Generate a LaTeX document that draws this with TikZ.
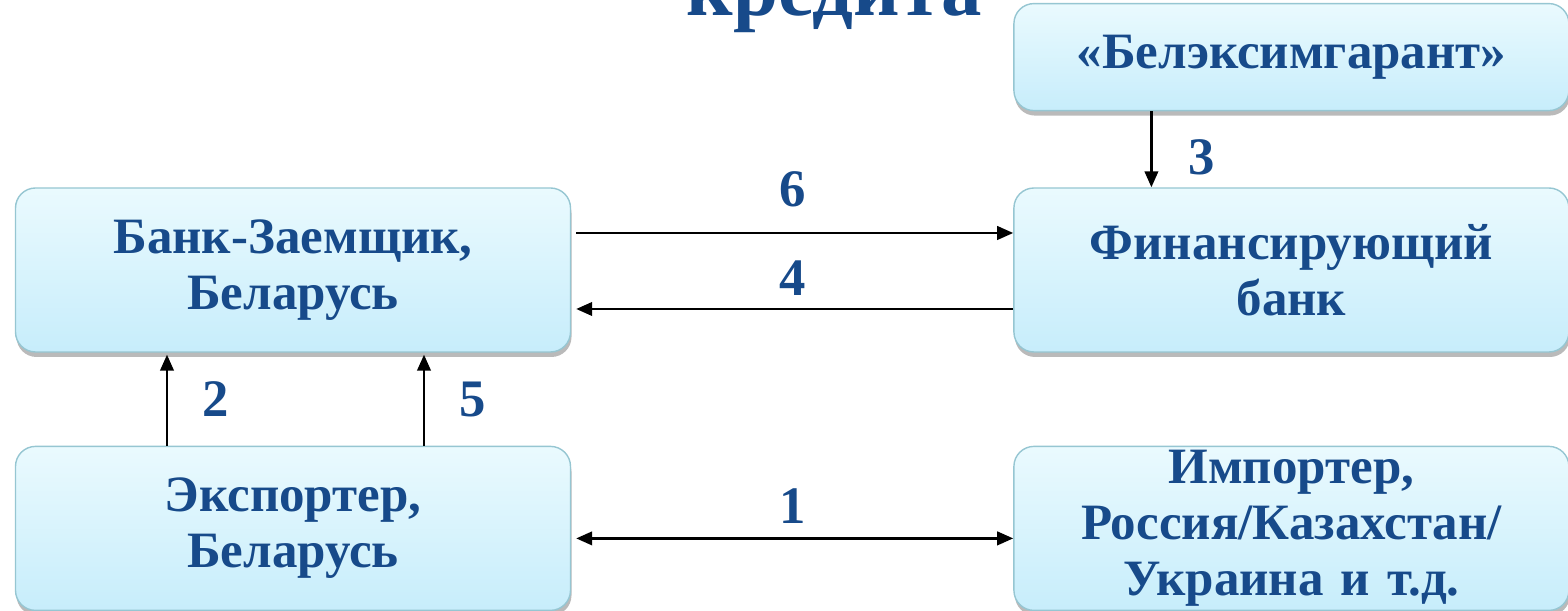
\documentclass[tikz,border=0pt]{standalone}
\usepackage{fontspec}
\setmainfont{Liberation Serif}
\usepackage{xcolor}
\usepackage{tikz}
\usetikzlibrary{positioning,arrows.meta,shadows}

\definecolor{textblue}{RGB}{23,74,138}
\definecolor{boxtop}{RGB}{234,250,254}
\definecolor{boxbottom}{RGB}{199,237,251}
\definecolor{boxline}{RGB}{150,198,210}

\begin{document}
\begin{tikzpicture}[->,>={Triangle[length=0.32cm,width=0.27cm]},line width=1.4pt,node distance=1.86cm]
    \tikzstyle{block}=[rounded corners=0.4cm,draw=boxline,line width=0.8pt,top color=boxtop,bottom color=boxbottom,
      drop shadow={shadow xshift=0.02cm,shadow yshift=-0.1cm,opacity=0.45,fill=black!60},
      minimum width=11.1cm,minimum height=3.28cm,text width=10.6cm,align=center,inner sep=2pt,
      text=textblue,font=\fontsize{29}{32}\selectfont\bfseries]
    \tikzstyle{num}=[text=textblue,font=\fontsize{30}{30}\selectfont\bfseries,inner sep=0pt]
    \useasboundingbox (0,0) rectangle (31.36,12.22);
    \node[text=textblue,font=\fontsize{46}{46}\selectfont\bfseries,anchor=base] (title) at (16.68,11.9) {кредита};
    \node[block]    (bank) at (5.86,6.82)       {Банк-Заемщик,\\Беларусь};
    \node[block]    (exp)  [below=of bank]      {Экспортер,\\Беларусь};
    \node[block]    (fin)  [right=8.84cm of bank] {Финансирующий\\банк};
    \node[block]    (imp)  [right=8.84cm of exp]  {Импортер,\\Россия/Казахстан/\\Украина и т.д.};
    \node[block,minimum height=2.14cm] (gar) [above=1.52cm of fin] {«Белэксимгарант»};
\path
([yshift=0.74cm]bank.east)   edge[shorten <=0.1cm]      node[num,above=0.49cm]{6} ([yshift=0.74cm]fin.west)
([yshift=-0.78cm]fin.west)   edge[shorten >=0.1cm]      node[num,above=0.25cm]{4} ([yshift=-0.78cm]bank.east)
([xshift=-2.8cm]gar.south)   edge                       node[num,right=0.72cm,pos=0.6]{3} ([xshift=-2.8cm]fin.north)
([xshift=-2.52cm]exp.north)  edge[shorten >=0.04cm]     node[num,right=0.68cm]{2} ([xshift=-2.52cm]bank.south)
([xshift=2.62cm]exp.north)   edge[shorten >=0.04cm]     node[num,right=0.68cm]{5} ([xshift=2.62cm]bank.south)
([yshift=-0.2cm]exp.east)    edge[<->,shorten <=0.1cm]  node[num,above=0.27cm]{1} ([yshift=-0.2cm]imp.west);
  \end{tikzpicture}
\end{document}
